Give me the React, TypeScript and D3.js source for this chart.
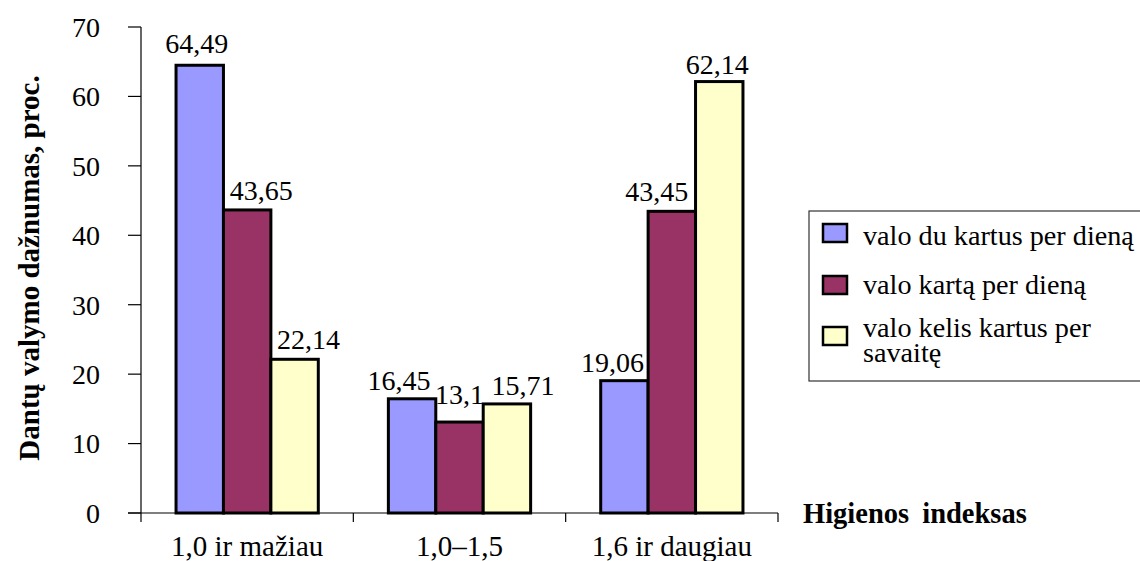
import React from "react";
import * as d3 from "d3";

// Hygiene index groups and tooth-brushing frequency shares (%)
const categories = ["1,0 ir mažiau", "1,0–1,5", "1,6 ir daugiau"];
const seriesNames = [
  "valo du kartus per dieną",
  "valo kartą per dieną",
  "valo kelis kartus per savaitę",
];
const twiceDaily = [64.49, 16.45, 19.06];
const onceDaily = [43.65, 13.1, 43.45];
const fewTimesWeekly = [22.14, 15.71, 62.14];
const yTicks = [0, 10, 20, 30, 40, 50, 60, 70];

const seriesValues = [twiceDaily, onceDaily, fewTimesWeekly];
const colors = ["#9999FF", "#993366", "#FFFFCC"];

// Small hand nudges [dx, dy] for value labels, per series then per category
const labelNudge = [
  [[-3, -2], [-13, 1], [-12, 1]],
  [[14, 0], [0, -8], [-15, 0]],
  [[14, 0], [16, 1], [-2, 2]],
];

const W = 1140;
const H = 561;
const FONT = '"Liberation Serif", "Times New Roman", serif';

const fmt = (v: number) => String(v).replace(".", ",");

export default function App() {
  const x0 = d3.scaleBand<string>().domain(categories).range([141, 778]).padding(0);
  const bw = x0.bandwidth();
  const x1 = d3
    .scaleBand<number>()
    .domain([0, 1, 2])
    .range([bw * 0.165, bw * 0.835])
    .padding(0);
  const y = d3.scaleLinear().domain([0, 70]).range([513, 27]);

  const legendRows = [
    { lines: ["valo du kartus per dieną"], swatchY: 224, baseY: 245 },
    { lines: ["valo kartą per dieną"], swatchY: 276, baseY: 294 },
    { lines: ["valo kelis kartus per", "savaitę"], swatchY: 327, baseY: 337 },
  ];

  return (
    <div style={{ position: "absolute", left: 0, top: 0 }}>
      <svg
        width={W}
        height={H}
        fontFamily={FONT}
        style={{ display: "block", background: "#fff" }}
      >
        {/* y axis */}
        <line x1={141} x2={141} y1={y(70)} y2={y(0)} stroke="#000" strokeWidth={1.2} />
        {yTicks.map((t) => (
          <g key={t}>
            <line x1={128} x2={141} y1={y(t)} y2={y(t)} stroke="#000" strokeWidth={1.2} />
            <text x={100} y={y(t)} dy="0.35em" textAnchor="end" fontSize={28} fill="#000">
              {t}
            </text>
          </g>
        ))}
        {/* x axis */}
        <line x1={128} x2={778} y1={y(0)} y2={y(0)} stroke="#000" strokeWidth={1.2} />
        {[...categories.map((c) => x0(c) as number), 778].map((px, i) => (
          <line key={i} x1={px} x2={px} y1={y(0)} y2={y(0) + 9} stroke="#000" strokeWidth={1.2} />
        ))}
        {categories.map((c) => (
          <text
            key={c}
            x={(x0(c) as number) + bw / 2}
            y={556}
            textAnchor="middle"
            fontSize={29}
            fill="#000"
          >
            {c}
          </text>
        ))}

        {/* bars */}
        {categories.map((c, ci) =>
          seriesValues.map((vals, si) => {
            const v = vals[ci];
            const bx = (x0(c) as number) + (x1(si) as number);
            const [ndx, ndy] = labelNudge[si][ci];
            return (
              <g key={`${ci}-${si}`}>
                <rect
                  x={bx}
                  y={y(v)}
                  width={x1.bandwidth()}
                  height={y(0) - y(v)}
                  fill={colors[si]}
                  stroke="#000"
                  strokeWidth={3}
                />
                <text
                  x={bx + x1.bandwidth() / 2 + ndx}
                  y={y(v) - 10 + ndy}
                  textAnchor="middle"
                  fontSize={28}
                  fill="#000"
                >
                  {fmt(v)}
                </text>
              </g>
            );
          })
        )}

        {/* axis titles */}
        <text
          transform={`translate(39, 268) rotate(-90)`}
          textAnchor="middle"
          fontWeight="bold"
          fontSize={29}
          fill="#000"
        >
          Dantų valymo dažnumas, proc.
        </text>
        <text x={803} y={523} fontWeight="bold" fontSize={28.5} wordSpacing={6} fill="#000">
          Higienos indeksas
        </text>

        {/* legend */}
        <rect x={809} y={211} width={360} height={170} fill="#fff" stroke="#333" strokeWidth={1.2} />
        {legendRows.map((r, i) => (
          <g key={seriesNames[i]}>
            <rect
              x={823}
              y={r.swatchY}
              width={24}
              height={18}
              fill={colors[i]}
              stroke="#000"
              strokeWidth={2.5}
            />
            <text fontSize={28.2} fill="#000">
              {r.lines.map((ln, li) => (
                <tspan key={li} x={863} y={r.baseY + li * 25}>
                  {ln}
                </tspan>
              ))}
            </text>
          </g>
        ))}
      </svg>
    </div>
  );
}
